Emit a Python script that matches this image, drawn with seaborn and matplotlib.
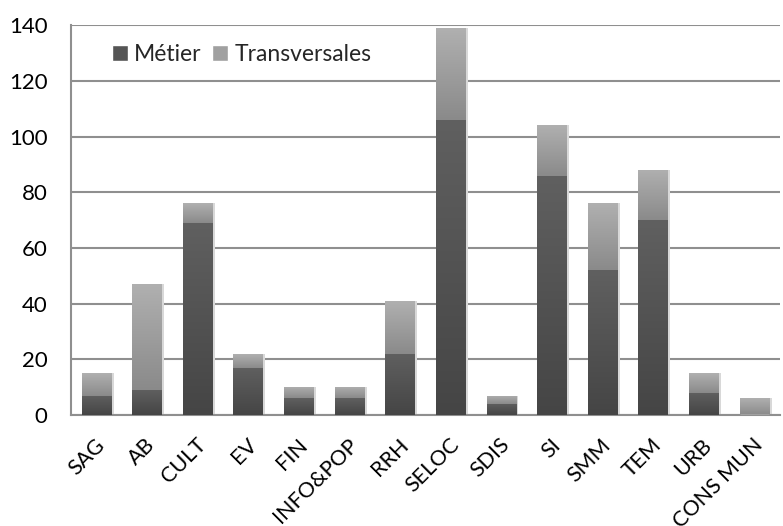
import numpy as np
import pandas as pd
import matplotlib
matplotlib.use("Agg")
import matplotlib.pyplot as plt
import matplotlib.transforms as mtransforms
from matplotlib.colors import LinearSegmentedColormap
from matplotlib.patches import Patch
import seaborn as sns

categories = ["SAG", "AB", "CULT", "EV", "FIN", "INFO&POP", "RRH", "SELOC",
              "SDIS", "SI", "SMM", "TEM", "URB", "CONS MUN"]
metier = [7, 9, 69, 17, 6, 6, 22, 106, 4, 86, 52, 70, 8, 0]
transversales = [8, 38, 7, 5, 4, 4, 19, 33, 3, 18, 24, 18, 7, 6]

df = pd.DataFrame({"cat": categories, "metier": metier, "trans": transversales})
df["total"] = df["metier"] + df["trans"]

sns.set_style("white")
plt.rcParams["font.family"] = ["Lato", "DejaVu Sans"]

fig = plt.figure(figsize=(7.83, 5.26), dpi=100)
ax = fig.add_axes([0.091, 0.211, 0.905, 0.741])

sns.barplot(data=df, x="cat", y="total", color="#a0a0a0", width=0.59,
            saturation=1, ax=ax, zorder=3)
n_total = len(ax.patches)
sns.barplot(data=df, x="cat", y="metier", color="#555555", width=0.59,
            saturation=1, ax=ax, zorder=4)

# vertical gradient fill per segment
light = LinearSegmentedColormap.from_list("l", ["#8a8a8a", "#b0b0b0"])
dark = LinearSegmentedColormap.from_list("d", ["#454545", "#606060"])
grad = np.linspace(0, 1, 256).reshape(-1, 1)
for i, p in enumerate(ax.patches):
    x0, w, h = p.get_x(), p.get_width(), p.get_height()
    if h <= 0:
        continue
    if i < n_total:
        lo, hi, cmap, z = metier[i], h, light, 3.5
    else:
        lo, hi, cmap, z = 0, h, dark, 4.5
    if hi <= lo:
        continue
    im = ax.imshow(grad, cmap=cmap, origin="lower", aspect="auto",
                   extent=[x0, x0 + w, lo, hi], zorder=z)
    im.set_clip_path(p)
    p.set_edgecolor("none")
    # soft shadow on the right side
    sh = plt.Rectangle((x0 + w, lo), 0.04, hi - lo, color="#d8d8d8",
                       zorder=2.5, linewidth=0)
    ax.add_patch(sh)

ax.set_xlim(-0.5, len(categories) - 0.5)
ax.set_ylim(0, 140)
ax.set_yticks(range(0, 141, 20))
ax.yaxis.grid(True, color="#8f8f8f", linewidth=1.5, zorder=0)
ax.set_axisbelow(True)
ax.set_xlabel("")
ax.set_ylabel("")
for s in ["top", "right"]:
    ax.spines[s].set_visible(False)
for s in ["left", "bottom"]:
    ax.spines[s].set_color("#8f8f8f")
    ax.spines[s].set_linewidth(1.5)
ax.tick_params(axis="y", length=0, labelsize=16, colors="black", pad=17)
ax.tick_params(axis="x", length=0, labelsize=15.5, colors="black", pad=10)
ax.set_xticks(range(len(categories)))
ax.set_xticklabels(categories, rotation=45, ha="right", va="center",
                   rotation_mode="anchor")
shift = mtransforms.ScaledTranslation(5 / 100, -13 / 100, fig.dpi_scale_trans)
for lab in ax.get_xticklabels():
    lab.set_transform(lab.get_transform() + shift)

handles = [Patch(facecolor="#555555", label="Métier"),
           Patch(facecolor="#a0a0a0", label="Transversales")]
ax.legend(handles=handles, loc="upper left", bbox_to_anchor=(0.028, 1.005),
          ncol=2, frameon=False, fontsize=16.5, handlelength=0.7,
          handleheight=0.7, handletextpad=0.25, columnspacing=0.5)

fig.savefig("out.png", dpi=100)
